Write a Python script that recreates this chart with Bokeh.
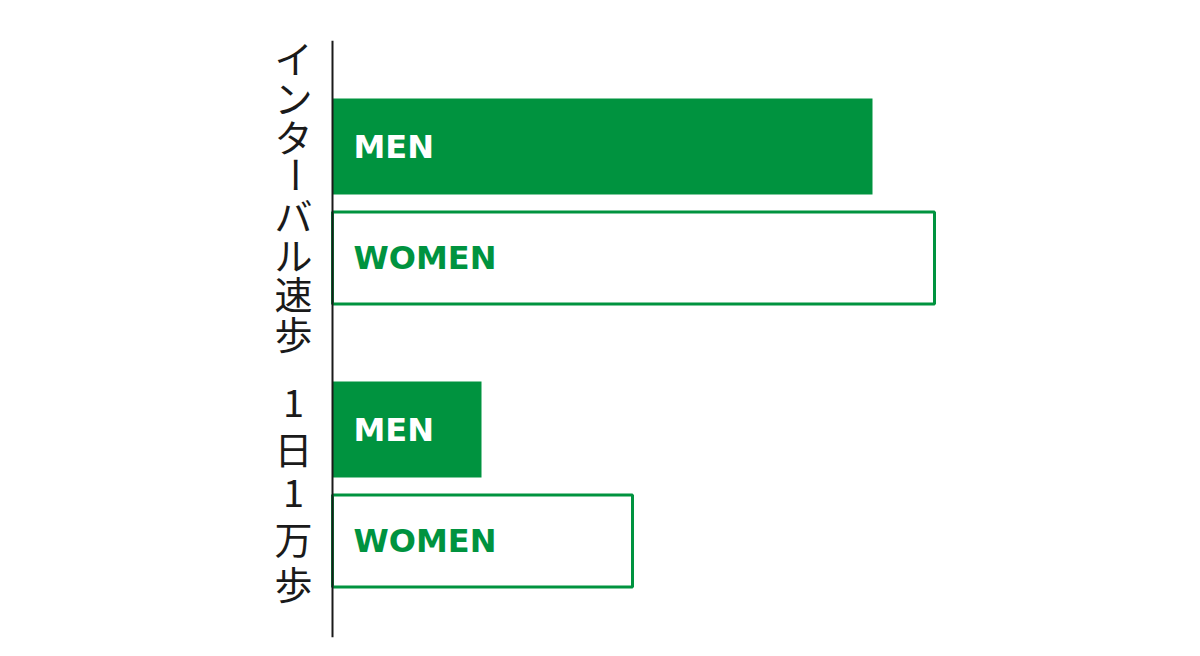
import math
from bokeh.plotting import figure
from bokeh.models import Range1d, Span, ColumnDataSource
from bokeh.core.properties import value
from bokeh.embed import file_html
from bokeh.resources import INLINE

# ---- data ----
groups = ["インターバル速歩", "1日1万歩"]
genders = ["MEN", "WOMEN"]
men_values = [540, 149]
women_values = [602, 300]

GREEN = "#00933F"

# ---- layout (vertical slots, top-down, in px-like units) ----
TOP_PAD = 106.0
SLOT = 111.5
GROUP_GAP = 60.0
FRAME_H = 597
LEFT_ROOM = 90


def slot_y(gi, si):
    return TOP_PAD + gi * (len(genders) * SLOT + GROUP_GAP) + si * SLOT


p = figure(width=1200, height=650, y_range=Range1d(FRAME_H, 0),
           x_range=Range1d(-LEFT_ROOM, 828),
           output_backend="svg", toolbar_location=None,
           min_border_left=242, min_border_right=40, min_border_top=40, min_border_bottom=13)

men_src = ColumnDataSource(dict(y=[slot_y(i, 0) for i in range(len(groups))], v=men_values,
                                lab=["MEN"] * len(groups)))
women_src = ColumnDataSource(dict(y=[slot_y(i, 1) for i in range(len(groups))], v=women_values,
                                  lab=["WOMEN"] * len(groups)))

p.hbar(y="y", left=0, right="v", height=96, source=men_src,
       fill_color=GREEN, line_color=None)
p.hbar(y="y", left=0, right="v", height=92, source=women_src,
       fill_color="white", line_color=GREEN, line_width=3)

# the vertical axis line
p.add_layout(Span(location=0, dimension="height", line_color="#1a1a1a", line_width=2))

p.text(x=0, y="y", text="lab", source=men_src, x_offset=21,
       text_color="white", text_font=value("DejaVu Sans"), text_font_style="bold",
       text_font_size="32px", text_baseline="middle", text_align="left")
p.text(x=0, y="y", text="lab", source=women_src, x_offset=21,
       text_color=GREEN, text_font=value("DejaVu Sans"), text_font_style="bold",
       text_font_size="32px", text_baseline="middle", text_align="left")

# vertical group labels (one upright character per line)
pitches = [39.3, 45.0]
shifts = [48, 63]
cx, cy, ct, coff, cang = [], [], [], [], []
for gi, g in enumerate(groups):
    chars = list(g)
    n = len(chars)
    for i, ch in enumerate(chars):
        cx.append(0)
        cy.append(slot_y(gi, 0))
        ct.append(ch)
        coff.append((i - (n - 1) / 2) * pitches[gi] + shifts[gi])
        cang.append(math.pi / 2 if ch == "ー" else 0)
char_src = ColumnDataSource(dict(x=cx, y=cy, t=ct, off=coff, ang=cang))
p.text(x="x", y="y", text="t", source=char_src, x_offset=-39, y_offset="off", angle="ang",
       text_align="center", text_baseline="middle",
       text_font=value("Noto Sans CJK JP"), text_font_style="normal",
       text_font_size="38px", text_color="#1a1a1a")

p.xaxis.visible = False
p.yaxis.visible = False
p.grid.visible = False
p.outline_line_color = None

open("out.html", "w").write(file_html(p, INLINE))
